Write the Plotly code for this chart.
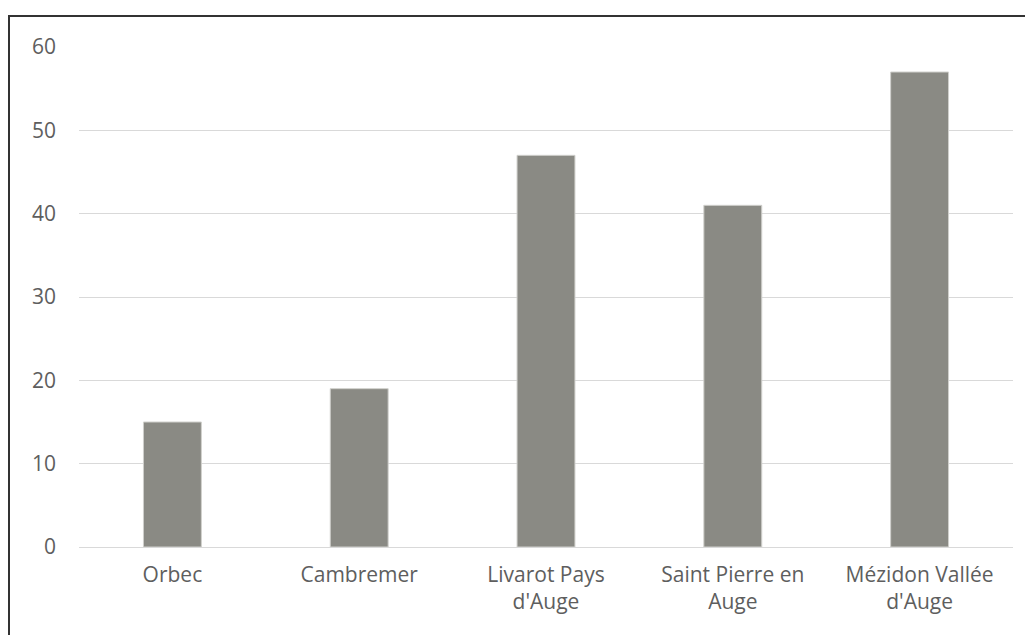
import plotly.graph_objects as go

categories = ["Orbec", "Cambremer", "Livarot Pays<br>d'Auge", "Saint Pierre en<br>Auge", "Mézidon Vallée<br>d'Auge"]
values = [15, 19, 47, 41, 57]
y_ticks = [0, 10, 20, 30, 40, 50, 60]

fig = go.Figure()
fig.add_trace(go.Bar(
    x=categories, y=values,
    marker=dict(color="#8a8a84", line=dict(color="#d0d0cc", width=1)),
    width=0.31,
))

# page has an 8px body offset
OFF = 8
W, H = 1033, 635
l, r, t, b = 79 - OFF, 20 + OFF, 47 - OFF, 88 + OFF
pw, ph = W - l - r, H - t - b

fig.update_layout(
    width=W, height=H,
    margin=dict(l=l, r=r, t=t, b=b),
    paper_bgcolor="white", plot_bgcolor="white",
    showlegend=False,
    font=dict(family="Open Sans, Liberation Sans, sans-serif", size=21, color="#5e5e5e"),
    xaxis=dict(showgrid=False, showline=False, ticks="", tickfont=dict(size=21, color="#5e5e5e"),
               ticklabelstandoff=13),
    yaxis=dict(range=[0, 60], tickvals=y_ticks, showgrid=True, gridcolor="#d9d9d9", gridwidth=1,
               zeroline=True, zerolinecolor="#d9d9d9", zerolinewidth=1,
               showline=False, ticks="", tickfont=dict(size=21, color="#5e5e5e"),
               ticklabelstandoff=22),
    shapes=[dict(type="rect", xref="paper", yref="paper",
                 x0=(9 - OFF - l) / pw, x1=(W + 20 - l) / pw,
                 y0=(H - b - (H + 20)) / ph, y1=(H - b - (16 - OFF)) / ph,
                 line=dict(color="#333333", width=2), fillcolor="rgba(0,0,0,0)", layer="above")],
)
fig.write_html("out.html")
